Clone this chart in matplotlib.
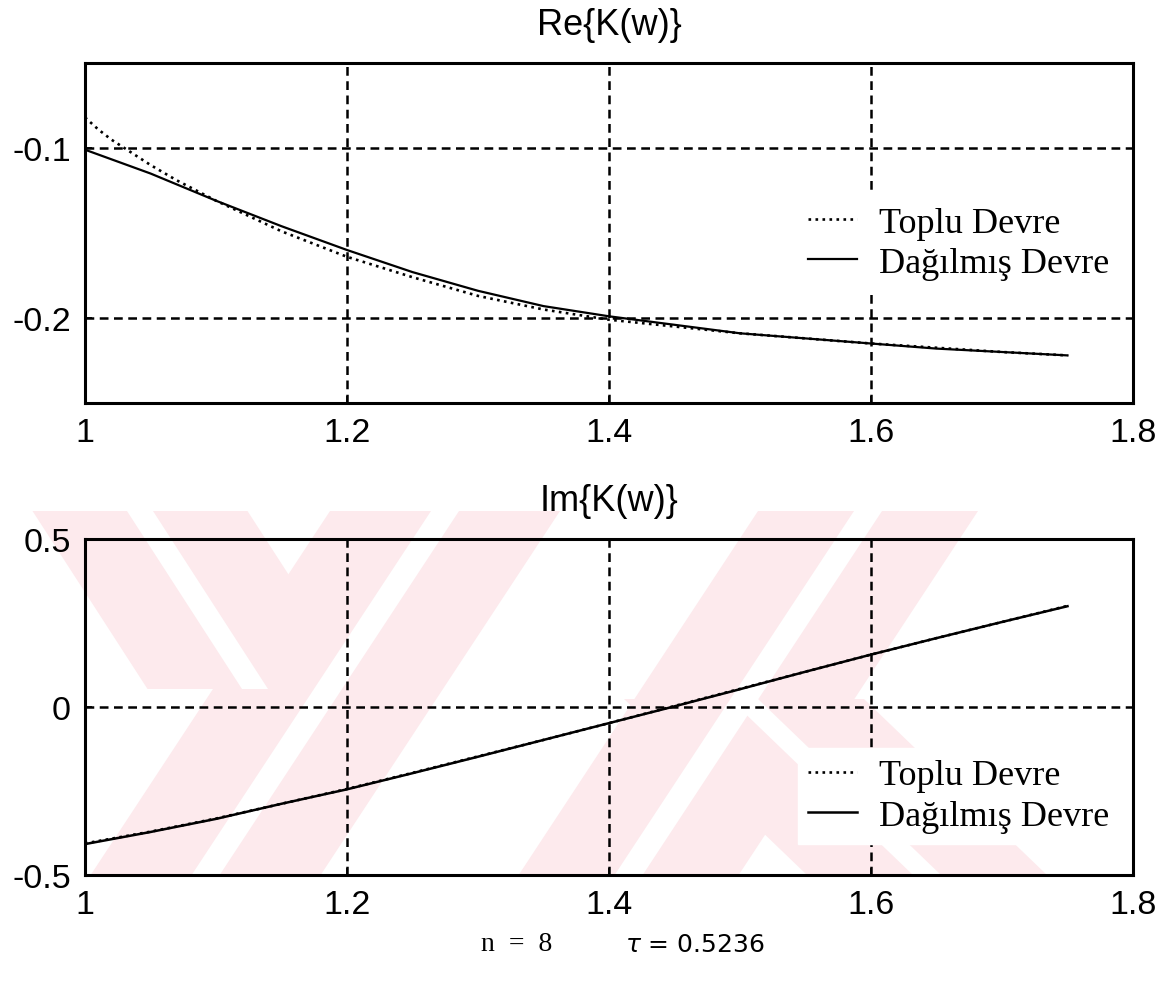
import matplotlib
matplotlib.use("Agg")
import matplotlib.pyplot as plt
from matplotlib.patches import Polygon

plt.rcParams['axes.unicode_minus'] = False

# frequency axis (normalised w)
w_re_toplu = [1.00, 1.01, 1.02, 1.03, 1.04, 1.05, 1.07, 1.10, 1.15, 1.20, 1.25,
              1.30, 1.35, 1.40, 1.45, 1.50, 1.60, 1.70, 1.75]
re_toplu = [-0.082, -0.089, -0.095, -0.100, -0.105, -0.110, -0.119, -0.131, -0.149,
            -0.164, -0.176, -0.187, -0.195, -0.201, -0.205, -0.209, -0.215, -0.220, -0.222]

w_re_dag = [1.00, 1.05, 1.10, 1.15, 1.20, 1.25, 1.30, 1.35, 1.40, 1.45, 1.50,
            1.55, 1.60, 1.65, 1.70, 1.75]
re_dag = [-0.101, -0.115, -0.131, -0.146, -0.160, -0.173, -0.184, -0.193, -0.199,
          -0.204, -0.209, -0.212, -0.215, -0.218, -0.220, -0.222]

w_im = [1.00, 1.05, 1.10, 1.15, 1.20, 1.25, 1.30, 1.35, 1.40, 1.45, 1.50,
        1.55, 1.60, 1.65, 1.70, 1.75]
im_toplu = [-0.406, -0.371, -0.332, -0.288, -0.244, -0.196, -0.147, -0.098, -0.048,
            0.003, 0.054, 0.105, 0.156, 0.205, 0.253, 0.301]
im_dag = [-0.408, -0.372, -0.333, -0.288, -0.245, -0.197, -0.148, -0.098, -0.048,
          0.002, 0.053, 0.105, 0.156, 0.205, 0.253, 0.300]

x_ticks = [1, 1.2, 1.4, 1.6, 1.8]
x_labels = ['1', '1.2', '1.4', '1.6', '1.8']
re_ticks = [-0.2, -0.1]
re_labels = ['-0.2', '-0.1']
im_ticks = [-0.5, 0, 0.5]
im_labels = ['-0.5', '0', '0.5']

labels = ['Toplu Devre', 'Dağılmış Devre']

fig = plt.figure(figsize=(11.74, 9.87), dpi=100)

# watermark in the background (pixel coordinates, y down)
bg = fig.add_axes([0, 0, 1, 1], zorder=-5)
bg.set_xlim(0, 1174)
bg.set_ylim(987, 0)
bg.axis('off')

def stroke(xt, yt, xb, yb, w, g):
    pink = Polygon([(xt - w / 2, yt), (xt + w / 2, yt), (xb + w / 2, yb), (xb - w / 2, yb)],
                   closed=True, fc='#fdeaed', ec='none')
    white = Polygon([(xt - g / 2, yt), (xt + g / 2, yt), (xb + g / 2, yb), (xb - g / 2, yb)],
                    closed=True, fc='white', ec='none')
    return pink, white

parts = [
    stroke(140, 512, 255, 690, 215, 26),   # Y short arm
    stroke(445, 512, 205, 877, 230, 28),   # Y long arm
    stroke(868, 512, 628, 877, 220, 28),   # K long arm
    stroke(744, 700, 928, 877, 240, 28),   # K leg
]
for p, _ in parts:
    bg.add_patch(p)
for _, wpart in parts:
    bg.add_patch(wpart)

ax1 = fig.add_axes([85 / 1174, 1 - 404 / 987, 1048 / 1174, 340 / 987])
ax2 = fig.add_axes([85 / 1174, 1 - 876 / 987, 1048 / 1174, 336 / 987])

ax1.plot(w_re_toplu, re_toplu, color='black', linestyle=':', linewidth=1.9, label=labels[0])
ax1.plot(w_re_dag, re_dag, color='black', linestyle='-', linewidth=1.6, label=labels[1])
ax2.plot(w_im, im_toplu, color='black', linestyle=':', linewidth=1.9, label=labels[0])
ax2.plot(w_im, im_dag, color='black', linestyle='-', linewidth=1.8, label=labels[1])

ax1.set_ylim(-0.25, -0.05)
ax1.set_yticks(re_ticks)
ax1.set_yticklabels(re_labels)
ax2.set_ylim(-0.5, 0.5)
ax2.set_yticks(im_ticks)
ax2.set_yticklabels(im_labels)

for ax, title, leg_y in [(ax1, 'Re{K(w)}', 0.47), (ax2, 'Im{K(w)}', 0.235)]:
    ax.set_facecolor('none')
    ax.set_xlim(1, 1.8)
    ax.set_xticks(x_ticks)
    ax.set_xticklabels(x_labels)
    ax.grid(True, color='black', linestyle=(0, (3.5, 2.2)), linewidth=1.8)
    ax.tick_params(direction='in', length=5, width=1.3, labelsize=24.5, pad=10)
    for lab in ax.get_xticklabels() + ax.get_yticklabels():
        lab.set_family('Liberation Sans')
    for sp in ax.spines.values():
        sp.set_linewidth(2.2)
    ax.set_title(title, fontsize=26, family='Liberation Sans', pad=21)
    leg = ax.legend(loc='center left', bbox_to_anchor=(0.68, leg_y),
                    prop={'family': 'Liberation Serif', 'size': 26},
                    frameon=True, facecolor='white', edgecolor='white', framealpha=1,
                    fancybox=False, handlelength=1.35, handletextpad=0.6,
                    labelspacing=0.2, borderpad=0.3, borderaxespad=0)
    leg.set_zorder(5)

fig.text(0.440, 0.0426, 'n  =  8', ha='center', va='center', fontsize=20, family='Liberation Serif')
fig.text(0.592, 0.0426, r'$\tau$ = 0.5236', ha='center', va='center', fontsize=18, family='DejaVu Sans')

fig.savefig('out.png', dpi=100)
